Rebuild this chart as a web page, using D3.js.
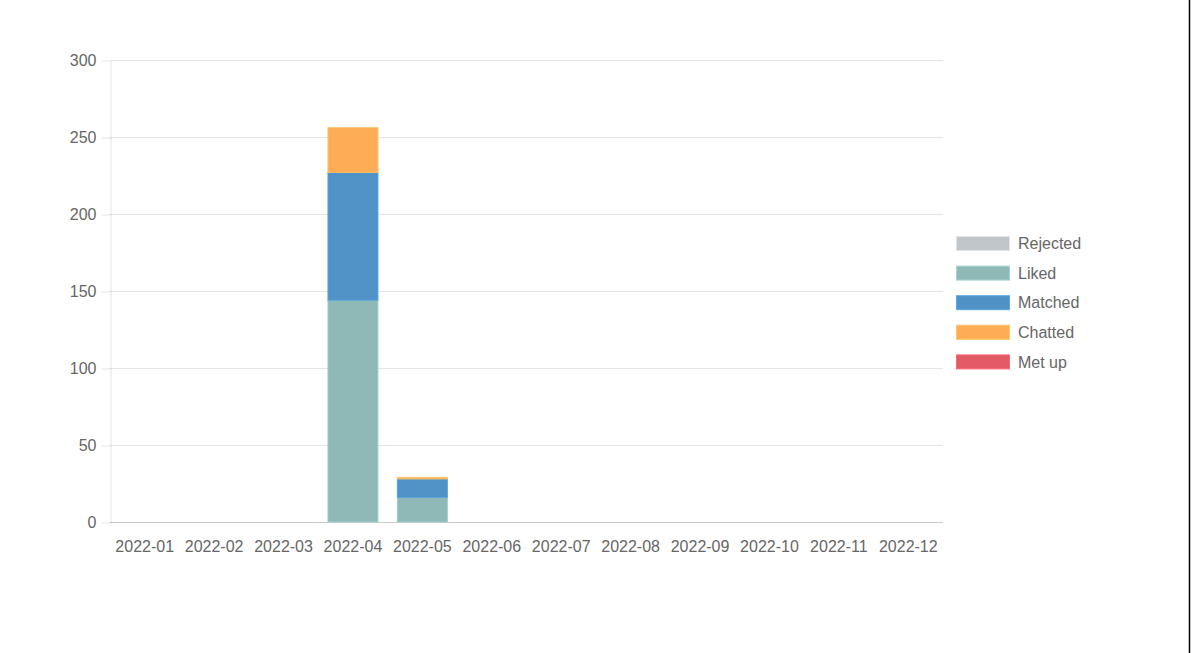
<!DOCTYPE html>
<html><head><meta charset="utf-8">
<script src="https://cdn.jsdelivr.net/npm/d3@7"></script>
<style>
html,body{margin:0;padding:0;background:#fff;}
svg{display:block;font-family:"Liberation Sans",Arial,sans-serif;}
</style></head>
<body>
<svg id="c" width="1191" height="653"></svg>
<script>
const months = ["2022-01","2022-02","2022-03","2022-04","2022-05","2022-06","2022-07","2022-08","2022-09","2022-10","2022-11","2022-12"];
const seriesNames = ["Rejected","Liked","Matched","Chatted","Met up"];
const seriesColors = ["#c1c6cb","#8fb9b7","#5091c6","#feac56","#e15a66"];
const rejected = [0,0,0,0,0,0,0,0,0,0,0,0];
const liked    = [0,0,0,144,16,0,0,0,0,0,0,0];
const matched  = [0,0,0,83,12,0,0,0,0,0,0,0];
const chatted  = [0,0,0,29,1,0,0,0,0,0,0,0];
const metUp    = [0,0,0,0,0,0,0,0,0,0,0,0];
const yTicks = [0,50,100,150,200,250,300];

const seriesValues = [rejected, liked, matched, chatted, metUp];
const table = months.map((m,i)=>{const o={month:m}; seriesNames.forEach((s,j)=>o[s]=seriesValues[j][i]); return o;});

const svg = d3.select("#c");
const pL=110, pR=943, pT=60, pB=522;
const x = d3.scaleBand().domain(months).range([pL,pR]).paddingInner(0).paddingOuter(0);
const y = d3.scaleLinear().domain([0,300]).range([pB,pT]);

// right border line
svg.append("line").attr("x1",1189.5).attr("x2",1189.5).attr("y1",0).attr("y2",653).attr("stroke","#000").attr("stroke-width",1.5);

// grid
svg.append("g").selectAll("line").data(yTicks).join("line")
  .attr("x1",pL).attr("x2",pR).attr("y1",d=>Math.round(y(d))+0.5).attr("y2",d=>Math.round(y(d))+0.5)
  .attr("stroke",d=>d===0?"rgba(0,0,0,0.2)":"rgba(0,0,0,0.1)").attr("stroke-width",1);

const gy = svg.append("g").attr("transform",`translate(${pL+0.5},0.5)`)
  .call(d3.axisLeft(y).tickValues(yTicks).tickSize(9).tickPadding(5).tickSizeOuter(0));
gy.select(".domain").attr("stroke","rgba(0,0,0,0.1)");
gy.selectAll(".tick line").attr("stroke","rgba(0,0,0,0.1)");
gy.selectAll(".tick text").attr("fill","#666").attr("font-size","16px").attr("font-family","Liberation Sans, Arial, sans-serif");

const gx = svg.append("g").attr("transform",`translate(0,${pB})`)
  .call(d3.axisBottom(x).tickSize(0).tickPadding(19));
gx.select(".domain").remove();
gx.selectAll(".tick text").attr("fill","#666").attr("font-size","16px").attr("font-family","Liberation Sans, Arial, sans-serif");

// stacked bars
const stack = d3.stack().keys(seriesNames)(table);
const bw = x.bandwidth()*0.72;
const color = d3.scaleOrdinal().domain(seriesNames).range(seriesColors);
svg.append("g").selectAll("g").data(stack).join("g")
  .attr("fill",d=>color(d.key))
  .attr("stroke",d=>d3.color(color(d.key)).brighter(0.3).formatHex())
  .attr("stroke-width",1)
  .selectAll("rect").data(d=>d.filter(p=>p[1]-p[0]>0)).join("rect")
  .attr("x",d=>x(d.data.month)+(x.bandwidth()-bw)/2)
  .attr("width",bw)
  .attr("y",d=>y(d[1]))
  .attr("height",d=>y(d[0])-y(d[1]));

// legend
const lg = svg.append("g").attr("transform","translate(956,236)");
const items = lg.selectAll("g").data(seriesNames).join("g").attr("transform",(d,i)=>`translate(0,${i*29.6})`);
items.append("rect").attr("x",0.5).attr("y",0.5).attr("width",53).attr("height",14)
  .attr("fill",d=>color(d)).attr("stroke",d=>d3.color(color(d)).brighter(0.4).formatHex());
items.append("text").attr("x",62).attr("y",7.5).attr("dy","0.35em").attr("fill","#666")
  .attr("font-size","16px").text(d=>d);
</script>
</body></html>
